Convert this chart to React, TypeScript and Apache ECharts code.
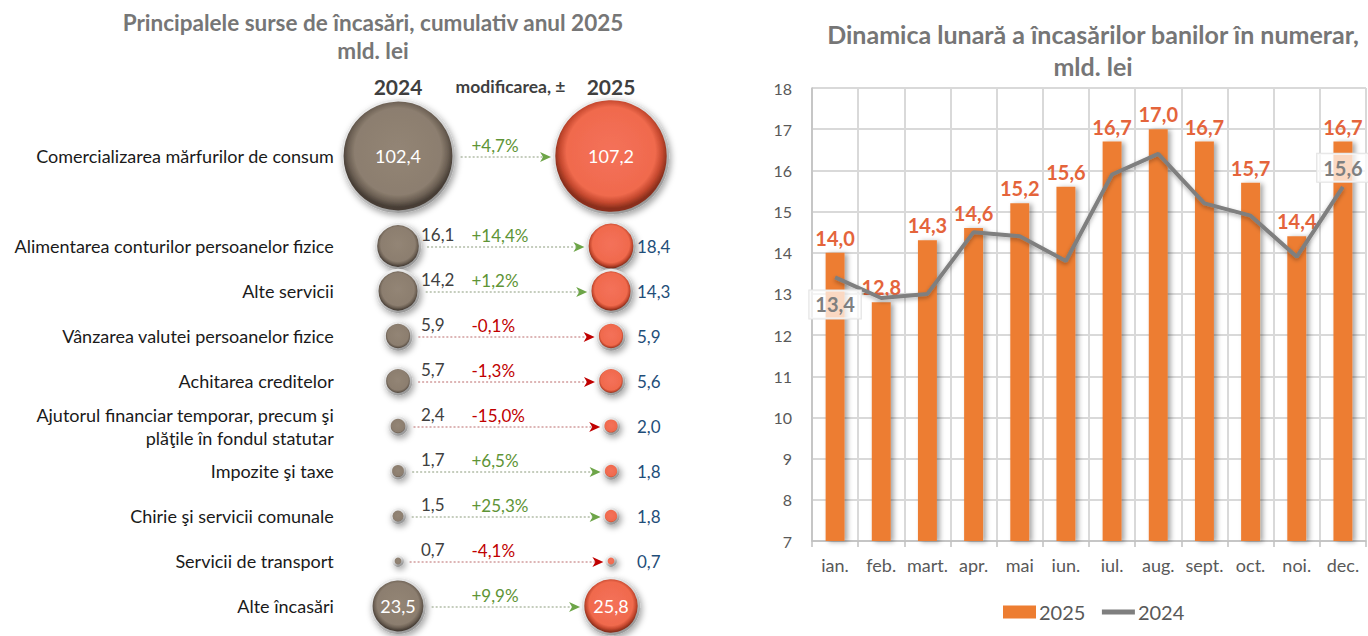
import React, { useEffect, useRef } from 'react';
import * as echarts from 'echarts';

// ---------- Left panel data ----------
const sources = [
  'Comercializarea mărfurilor de consum',
  'Alimentarea conturilor persoanelor fizice',
  'Alte servicii',
  'Vânzarea valutei persoanelor fizice',
  'Achitarea creditelor',
  'Ajutorul financiar temporar, precum şi\nplăţile în fondul statutar',
  'Impozite şi taxe',
  'Chirie şi servicii comunale',
  'Servicii de transport',
  'Alte încasări',
];
const values2024 = [102.4, 16.1, 14.2, 5.9, 5.7, 2.4, 1.7, 1.5, 0.7, 23.5];
const values2025 = [107.2, 18.4, 14.3, 5.9, 5.6, 2.0, 1.8, 1.8, 0.7, 25.8];
const changePct = [4.7, 14.4, 1.2, -0.1, -1.3, -15.0, 6.5, 25.3, -4.1, 9.9];
const columnHeaders = ['2024', 'modificarea, ±', '2025'];

// ---------- Right panel data ----------
const months = ['ian.', 'feb.', 'mart.', 'apr.', 'mai', 'iun.', 'iul.', 'aug.', 'sept.', 'oct.', 'noi.', 'dec.'];
const monthly2025 = [14.0, 12.8, 14.3, 14.6, 15.2, 15.6, 16.7, 17.0, 16.7, 15.7, 14.4, 16.7];
const monthly2024 = [13.4, 12.9, 13.0, 14.5, 14.4, 13.8, 15.9, 16.4, 15.2, 14.9, 13.9, 15.6];
const yMin = 7;
const yMax = 18;
const yStep = 1;

const FONT = 'Lato';
const fmt = (v: number) => v.toFixed(1).replace('.', ',');
const pctFmt = (v: number) => (v >= 0 ? '+' : '') + v.toFixed(1).replace('.', ',') + '%';
const bubbleSize = (v: number) => 11 * Math.sqrt(v);
const rowOf = (i: number) => (i === 0 ? 0 : i + 1);
const rows = [sources[0], '', ...sources.slice(1)];

const ringColor = {
  type: 'linear', x: 0, y: 0, x2: 0.6, y2: 1,
  colorStops: [{ offset: 0, color: '#f6f6f6' }, { offset: 0.55, color: '#d6d6d6' }, { offset: 1, color: '#9a9a9a' }],
};
const fill2024 = {
  type: 'radial', x: 0.5, y: 0.46, r: 0.5,
  colorStops: [
    { offset: 0, color: '#938575' },
    { offset: 0.78, color: '#8C7E6F' },
    { offset: 0.9, color: '#6C6054' },
    { offset: 1, color: '#463D35' },
  ],
};
const fill2025 = {
  type: 'radial', x: 0.5, y: 0.46, r: 0.5,
  colorStops: [
    { offset: 0, color: '#F4715A' },
    { offset: 0.78, color: '#F06A4D' },
    { offset: 0.9, color: '#C6492F' },
    { offset: 1, color: '#8A2F1C' },
  ],
};

export default function App() {
  const ref = useRef<HTMLDivElement>(null);
  useEffect(() => {
    if (!ref.current) return;
    const chart = echarts.init(ref.current, undefined, { renderer: 'svg' });

    const bubbleStyle = (fill: any) => ({
      color: fill,
      opacity: 1,
      borderColor: ringColor,
      borderWidth: 2.5,
      shadowBlur: 6,
      shadowColor: 'rgba(0,0,0,0.35)',
      shadowOffsetX: 2,
      shadowOffsetY: 3,
    });

    const insideLabel = {
      show: true, position: 'inside', color: '#ffffff', fontSize: 18, fontFamily: FONT,
      formatter: (p: any) => fmt(p.value[2]),
    };
    const out24 = {
      show: true, position: 'inside', align: 'left', offset: [23, -12], color: '#404040', fontSize: 17, fontFamily: FONT,
      formatter: (p: any) => fmt(p.value[2]),
    };
    const out25 = {
      show: true, position: 'inside', align: 'left', offset: [26, 0], color: '#1F4E79', fontSize: 17, fontFamily: FONT,
      formatter: (p: any) => fmt(p.value[2]),
    };

    const lineLabelBase = {
      show: true, color: '#7F7F7F', fontWeight: 'bold', fontSize: 20, fontFamily: FONT,
      backgroundColor: 'rgba(255,255,255,0.7)', borderColor: '#e3e3e3', borderWidth: 1, padding: [4, 6, 4, 6],
      formatter: (p: any) => fmt(p.value),
    };

    const option: any = {
      animation: false,
      textStyle: { fontFamily: FONT },
      title: [
        {
          text: 'Principalele surse de încasări, cumulativ anul 2025\nmld. lei',
          left: 368, top: 3, textAlign: 'center',
          textStyle: { fontSize: 22.5, fontWeight: 'bold', color: '#767676', lineHeight: 28, fontFamily: FONT },
        },
        {
          text: 'Dinamica lunară a încasărilor banilor în numerar,\nmld. lei',
          left: 1088, top: 13, textAlign: 'center',
          textStyle: { fontSize: 25, fontWeight: 'bold', color: '#767676', lineHeight: 32, fontFamily: FONT },
        },
      ],
      legend: {
        left: 998, top: 597, itemWidth: 33, itemHeight: 13, itemGap: 14,
        textStyle: { fontSize: 20, color: '#595959', fontFamily: FONT, padding: [0, 0, 0, -2] },
        data: [
          { name: '2025', icon: 'rect' },
          { name: '2024', lineStyle: { width: 5, color: '#7F7F7F' } },
        ],
        selectedMode: false,
      },
      grid: [
        { left: 344.75, width: 319.5, top: 133.5, height: 495 },
        { left: 812, right: 2, top: 88, bottom: 95 },
      ],
      xAxis: [
        {
          type: 'category', gridIndex: 0, position: 'top', data: columnHeaders,
          axisLine: { show: false }, axisTick: { show: false }, splitLine: { show: false },
          axisLabel: {
            interval: 0, margin: 35,
            formatter: (v: string, i: number) => (i === 1 ? '{m|' + v + '}' : '{y|' + v + '}'),
            rich: {
              y: { fontSize: 21, fontWeight: 'bold', color: '#3F3F3F', lineHeight: 24, fontFamily: FONT },
              m: { fontSize: 17.5, fontWeight: 'bold', color: '#3F3F3F', lineHeight: 24, padding: [0, 0, 0, 12], fontFamily: FONT },
            },
          },
        },
        {
          type: 'category', gridIndex: 1, data: months,
          axisLine: { lineStyle: { color: '#BFBFBF', width: 1.5 } },
          axisTick: { show: true, length: 6, lineStyle: { color: '#BFBFBF', width: 1.5 } },
          splitLine: { show: true, lineStyle: { color: '#D9D9D9', width: 2 } },
          axisLabel: { color: '#595959', fontSize: 18, margin: 15, fontFamily: FONT, interval: 0 },
        },
      ],
      yAxis: [
        {
          type: 'category', gridIndex: 0, data: rows, inverse: true,
          axisLine: { show: false }, axisTick: { show: false }, splitLine: { show: false },
          axisLabel: { interval: 0, color: '#1a1a1a', fontSize: 18, margin: 11, lineHeight: 23, align: 'right', fontFamily: FONT },
        },
        {
          type: 'value', gridIndex: 1, min: yMin, max: yMax, interval: yStep,
          axisLine: { show: true, lineStyle: { color: '#BFBFBF', width: 1.5 } },
          axisTick: { show: false },
          splitLine: { show: true, lineStyle: { color: '#D9D9D9', width: 2 } },
          axisLabel: { color: '#595959', fontSize: 16, margin: 20, fontFamily: FONT },
        },
      ],
      series: [
        {
          type: 'custom', name: 'change', xAxisIndex: 0, yAxisIndex: 0, clip: false, silent: true,
          data: changePct.map((c, i) => [1, rowOf(i), values2024[i], values2025[i], c]),
          encode: { x: 0, y: 1 },
          renderItem: (params: any, api: any) => {
            const row = api.value(1);
            const v24 = api.value(2);
            const v25 = api.value(3);
            const ch = api.value(4);
            const a = api.coord([0, row]);
            const b = api.coord([2, row]);
            const x1 = a[0] + bubbleSize(v24) / 2 + 7;
            const x2 = b[0] - bubbleSize(v25) / 2 - 3;
            const y = a[1] + 1;
            const pos = ch >= 0;
            const col = pos ? '#5E9436' : '#C00000';
            const head = pos ? '#6DA548' : '#C00000';
            const dash = pos ? 'rgba(110,130,90,0.8)' : 'rgba(170,70,70,0.8)';
            return {
              type: 'group',
              children: [
                { type: 'line', shape: { x1, y1: y, x2: x2 - 7, y2: y }, style: { stroke: dash, lineWidth: 1, lineDash: [2, 2] } },
                { type: 'polygon', shape: { points: [[x2, y], [x2 - 11, y - 5], [x2 - 8, y], [x2 - 11, y + 5]] }, style: { fill: head } },
                {
                  type: 'text', x: (a[0] + b[0]) / 2 - 33, y: y - 12,
                  style: { text: pctFmt(ch), fill: col, fontSize: 17, fontFamily: FONT, align: 'left', verticalAlign: 'middle' },
                },
              ],
            };
          },
        },
        {
          type: 'scatter', name: 'b2024', xAxisIndex: 0, yAxisIndex: 0, clip: false, silent: true,
          symbolSize: (val: number[]) => bubbleSize(val[2]),
          itemStyle: bubbleStyle(fill2024),
          data: values2024.map((v, i) => ({ value: [0, rowOf(i), v], label: v > 20 ? insideLabel : out24 })),
        },
        {
          type: 'scatter', name: 'b2025', xAxisIndex: 0, yAxisIndex: 0, clip: false, silent: true,
          symbolSize: (val: number[]) => bubbleSize(val[2]),
          itemStyle: bubbleStyle(fill2025),
          data: values2025.map((v, i) => ({ value: [2, rowOf(i), v], label: v > 20 ? insideLabel : out25 })),
        },
        {
          type: 'bar', name: '2025', xAxisIndex: 1, yAxisIndex: 1, barWidth: '41%', silent: true,
          data: monthly2025,
          itemStyle: { color: '#ED7D31', shadowColor: 'rgba(0,0,0,0.35)', shadowBlur: 5, shadowOffsetX: 3, shadowOffsetY: 1 },
          label: {
            show: true, position: 'top', distance: 5, color: '#E4643B', fontWeight: 'bold', fontSize: 20, fontFamily: FONT,
            formatter: (p: any) => fmt(p.value),
          },
        },
        {
          type: 'line', name: '2024', xAxisIndex: 1, yAxisIndex: 1, silent: true,
          symbol: 'circle', symbolSize: 4, showSymbol: true,
          itemStyle: { color: 'rgba(0,0,0,0)' },
          lineStyle: { color: '#7F7F7F', width: 4, shadowColor: 'rgba(0,0,0,0.3)', shadowBlur: 4, shadowOffsetY: 2 },
          data: monthly2024.map((v, i) => ({
            value: v,
            label:
              i === 0
                ? { ...lineLabelBase, position: 'bottom', distance: 11 }
                : i === monthly2024.length - 1
                ? { ...lineLabelBase, position: 'top', distance: 3 }
                : { show: false },
          })),
        },
      ],
    };
    chart.setOption(option);
    return () => chart.dispose();
  }, []);
  return <div ref={ref} style={{ position: 'absolute', left: 0, top: 0, width: 1368, height: 636 }} />;
}
